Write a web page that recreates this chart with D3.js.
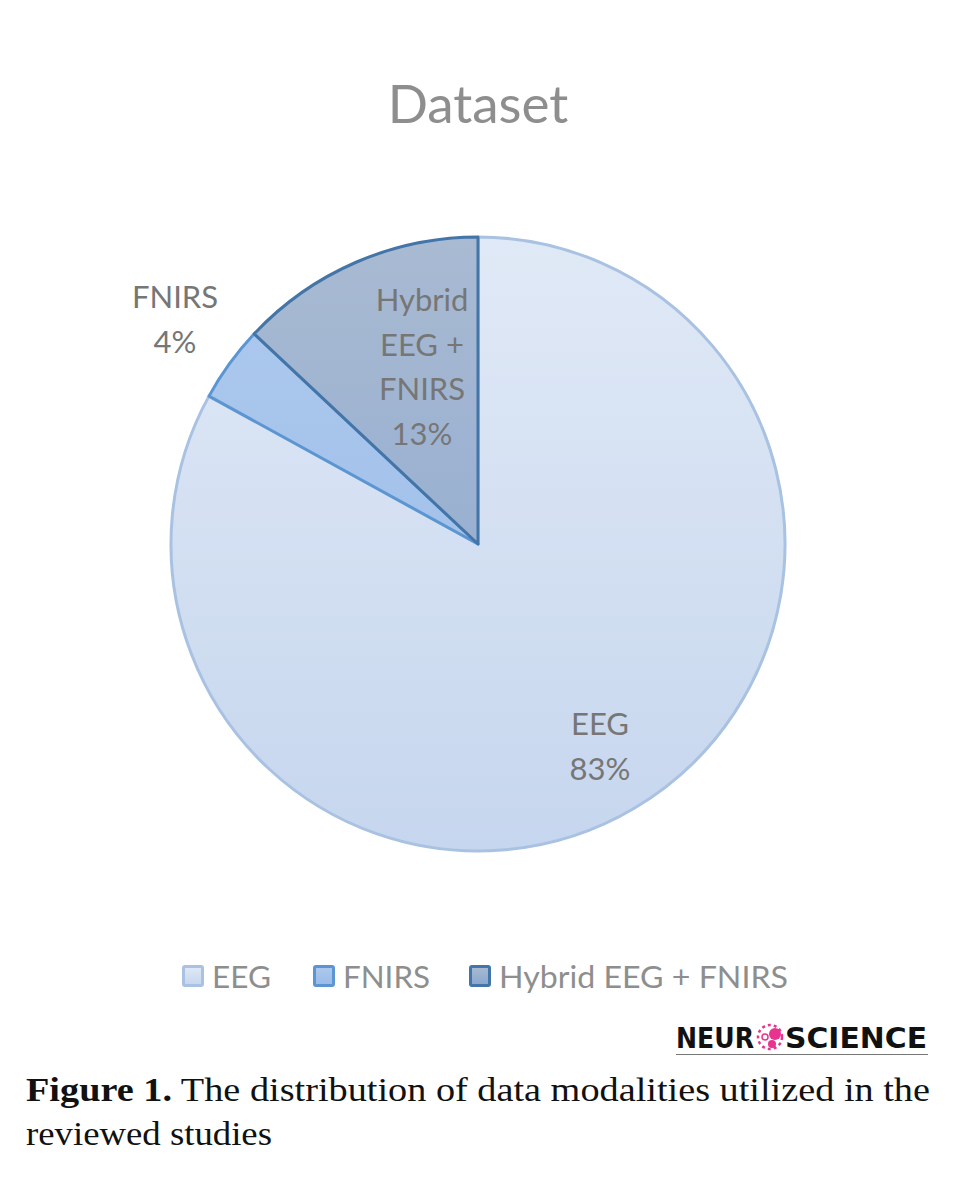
<!DOCTYPE html>
<html><head><meta charset="utf-8">
<script src="https://cdn.jsdelivr.net/npm/d3@7"></script>
<style>body{margin:0;background:#fff}svg{display:block}</style>
</head><body>
<script>
const categories = ["EEG", "FNIRS", "Hybrid EEG + FNIRS"];
const values = [83, 4, 13];
const labelLines = [["EEG", "83%"], ["FNIRS", "4%"], ["Hybrid", "EEG +", "FNIRS", "13%"]];
const title = "Dataset";

const W = 980, H = 1184;
const svg = d3.select("body").append("svg").attr("width", W).attr("height", H);
const cx = 478, cy = 544, R = 307;

const fillTop = ["#e0e9f6", "#aec9ed", "#a9bad2"];
const fillBot = ["#c6d6ee", "#98bbe8", "#88a6cf"];
const strokes = ["#a9c2e2", "#5b96d3", "#4375a8"];

const defs = svg.append("defs");
categories.forEach((c, i) => {
  const g = defs.append("linearGradient").attr("id", "g" + i)
    .attr("gradientUnits", "userSpaceOnUse")
    .attr("x1", 0).attr("y1", -R).attr("x2", 0).attr("y2", R);
  g.append("stop").attr("offset", 0).attr("stop-color", fillTop[i]);
  g.append("stop").attr("offset", 1).attr("stop-color", fillBot[i]);
  const g2 = defs.append("linearGradient").attr("id", "lg" + i)
    .attr("x1", 0).attr("y1", 0).attr("x2", 0).attr("y2", 1);
  g2.append("stop").attr("offset", 0).attr("stop-color", fillTop[i]);
  g2.append("stop").attr("offset", 1).attr("stop-color", fillBot[i]);
});

svg.append("text").attr("x", 478).attr("y", 123).attr("text-anchor", "middle")
  .attr("font-family", "Lato, 'Open Sans', sans-serif").attr("font-size", 53)
  .attr("fill", "#8e8e8e").text(title);

const pie = d3.pie().sort(null).value(d => d)(values);
const arc = d3.arc().innerRadius(0).outerRadius(R);
const gp = svg.append("g").attr("transform", `translate(${cx},${cy})`);
gp.selectAll("path").data(pie).join("path")
  .attr("d", arc)
  .attr("fill", (d, i) => `url(#g${i})`)
  .attr("stroke", (d, i) => strokes[i])
  .attr("stroke-width", 3).attr("stroke-linejoin", "round");

// labels
const labelPos = [[600, 735], [175, 308], [422, 311]];
const lh = 44.5;
labelLines.forEach((lines, i) => {
  const t = svg.append("text").attr("text-anchor", "middle")
    .attr("font-family", "Lato, 'Open Sans', sans-serif").attr("font-size", 31)
    .attr("fill", "#767676");
  lines.forEach((l, j) => {
    t.append("tspan").attr("x", labelPos[i][0]).attr("y", labelPos[i][1] + j * lh).text(l);
  });
});

// legend
const legX = [182, 313, 469];
const legW = [59, 87, 289];
const lg = svg.append("g");
categories.forEach((c, i) => {
  lg.append("rect").attr("x", legX[i] + 1.5).attr("y", 966.5).attr("width", 19).attr("height", 19)
    .attr("fill", `url(#lg${i})`).attr("stroke", strokes[i]).attr("stroke-width", 3)
    .attr("rx", 1.5);
  lg.append("text").attr("x", legX[i] + 30).attr("y", 988)
    .attr("font-family", "Lato, 'Open Sans', sans-serif").attr("font-size", 31)
    .attr("fill", "#8e8e8e").attr("textLength", legW[i]).attr("lengthAdjust", "spacingAndGlyphs").text(c);
});

// logo
const logo = svg.append("g");
logo.append("text").attr("x", 676).attr("y", 1048)
  .attr("font-family", "'DejaVu Sans', sans-serif").attr("font-weight", "bold").attr("font-size", 29)
  .attr("fill", "#111").attr("textLength", 78).attr("lengthAdjust", "spacingAndGlyphs").text("NEUR");
logo.append("text").attr("x", 785).attr("y", 1048)
  .attr("font-family", "'DejaVu Sans', sans-serif").attr("font-weight", "bold").attr("font-size", 29)
  .attr("fill", "#111").attr("textLength", 142).attr("lengthAdjust", "spacingAndGlyphs").text("SCIENCE");
const lc = logo.append("g").attr("transform", "translate(770,1037)");
lc.append("circle").attr("r", 12).attr("fill", "none").attr("stroke", "#e8348f").attr("stroke-width", 2.5).attr("stroke-dasharray", "3 3");
lc.append("circle").attr("cx", 5).attr("cy", -3).attr("r", 6).attr("fill", "#e8348f");
lc.append("circle").attr("cx", 2).attr("cy", 7).attr("r", 4).attr("fill", "#e8348f");
lc.append("circle").attr("cx", -5).attr("cy", 0).attr("r", 3).attr("fill", "none").attr("stroke", "#e8348f").attr("stroke-width", 1.5);
logo.append("line").attr("x1", 676).attr("x2", 928).attr("y1", 1054.5).attr("y2", 1054.5)
  .attr("stroke", "#777").attr("stroke-width", 1.2);

// caption
const cap = svg.append("text").attr("x", 26).attr("y", 1101)
  .attr("font-family", "'Liberation Serif', 'DejaVu Serif', serif").attr("font-size", 33).attr("fill", "#111")
  .attr("textLength", 904).attr("lengthAdjust", "spacingAndGlyphs");
cap.append("tspan").attr("font-weight", "bold").text("Figure 1.");
cap.append("tspan").text(" The distribution of data modalities utilized in the");
svg.append("text").attr("x", 26).attr("y", 1145)
  .attr("font-family", "'Liberation Serif', 'DejaVu Serif', serif").attr("font-size", 33).attr("fill", "#111")
  .attr("textLength", 246).attr("lengthAdjust", "spacingAndGlyphs").text("reviewed studies");
</script>
</body></html>
